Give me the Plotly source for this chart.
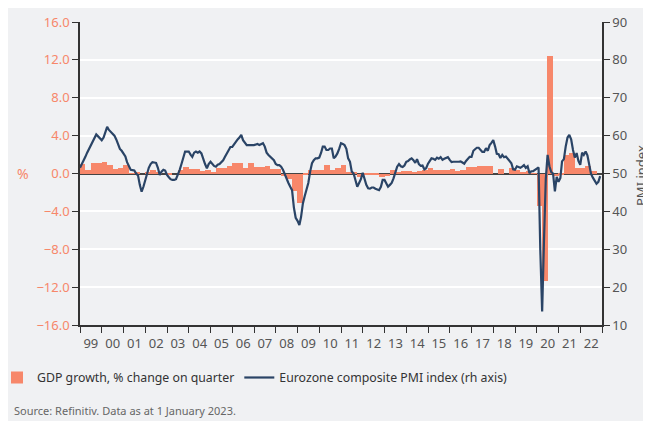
import pandas as pd
import plotly.graph_objects as go

# Quarterly GDP growth, % change on quarter (1999Q1 .. 2022Q4)
gdp_q = [
    1.0, 0.35, 1.1, 1.1,      # 1999
    1.2, 0.9, 0.45, 0.6,      # 2000
    0.95, 0.05, 0.1, 0.0,     # 2001
    0.1, 0.4, 0.2, 0.0,       # 2002
    -0.15, 0.0, 0.42, 0.7,    # 2003
    0.5, 0.5, 0.25, 0.4,      # 2004
    0.15, 0.6, 0.6, 0.8,      # 2005
    1.1, 1.1, 0.6, 1.15,      # 2006
    0.65, 0.65, 0.75, 0.5,    # 2007
    0.5, -0.3, -0.55, -1.8,   # 2008
    -3.1, -0.2, 0.4, 0.4,     # 2009
    0.4, 0.95, 0.4, 0.6,      # 2010
    0.95, 0.15, 0.1, -0.35,   # 2011
    -0.1, -0.2, -0.2, -0.4,   # 2012
    -0.3, 0.35, 0.2, 0.3,     # 2013
    0.25, 0.15, 0.3, 0.4,     # 2014
    0.6, 0.4, 0.4, 0.4,       # 2015
    0.5, 0.25, 0.4, 0.7,      # 2016
    0.7, 0.78, 0.78, 0.78,    # 2017
    0.0, 0.5, 0.0, 0.6,       # 2018
    0.35, 0.2, 0.3, 0.05,     # 2019
    -3.4, -11.4, 12.4, -0.3,  # 2020
    -0.1, 2.0, 2.2, 0.55,     # 2021
    0.6, 0.8, 0.3, None,      # 2022
]

# Monthly Eurozone composite PMI (Jan 1999 .. Dec 2022)
pmi = [
    51.5, 52.5, 53.0, 54.4, 55.5, 56.5, 57.5, 58.5, 59.5, 60.3, 59.8, 59.2,   # 1999
    58.8, 59.5, 61.0, 62.3, 61.5, 61.0, 60.5, 60.0, 59.0, 57.5, 56.5, 56.0,   # 2000
    55.3, 54.5, 53.0, 51.8, 51.0, 50.9, 50.8, 50.0, 49.5, 47.0, 45.2, 46.5,   # 2001
    48.5, 50.0, 51.5, 52.5, 53.0, 52.9, 52.8, 51.5, 49.6, 50.5, 51.0, 50.8,   # 2002
    49.6, 49.0, 48.5, 48.3, 48.3, 48.5, 49.5, 50.9, 52.5, 54.0, 55.8, 55.8,   # 2003
    55.8, 55.0, 54.4, 55.5, 55.8, 55.5, 55.8, 55.3, 53.6, 52.5, 51.4, 52.5,   # 2004
    53.1, 52.5, 52.0, 51.8, 52.3, 52.5, 53.0, 53.5, 54.4, 55.3, 56.2, 57.0,   # 2005
    57.0, 57.8, 58.4, 59.0, 59.5, 60.2, 58.8, 58.0, 57.5, 57.5, 57.6, 57.5,   # 2006
    57.5, 57.6, 57.8, 57.5, 57.8, 58.0, 57.1, 55.5, 54.9, 54.5, 54.0, 53.5,   # 2007
    52.5, 52.2, 52.2, 51.8, 51.0, 49.8, 48.3, 47.5, 46.5, 45.6, 41.0, 38.3,   # 2008
    37.5, 36.4, 38.5, 42.1, 44.0, 45.6, 47.5, 50.5, 52.7, 53.5, 54.0, 54.0,   # 2009
    54.2, 55.5, 57.1, 57.1, 56.2, 56.2, 56.6, 56.6, 54.0, 54.5, 55.3, 56.5,   # 2010
    58.0, 57.8, 57.5, 56.5, 54.0, 53.1, 50.5, 50.0, 48.5, 46.5, 47.5, 48.5,   # 2011
    50.2, 48.5, 47.0, 46.1, 46.0, 46.3, 46.3, 46.0, 45.8, 45.6, 46.5, 48.3,   # 2012
    48.3, 47.5, 46.5, 47.0, 47.5, 48.7, 50.0, 51.8, 52.5, 51.9, 51.7, 52.1,   # 2013
    53.1, 53.3, 53.7, 54.0, 53.5, 52.8, 53.8, 52.5, 52.0, 52.1, 51.1, 51.4,   # 2014
    52.6, 53.3, 54.0, 53.9, 53.6, 54.2, 53.9, 54.3, 53.6, 53.9, 54.2, 54.3,   # 2015
    53.6, 53.0, 53.1, 53.0, 53.1, 53.1, 53.2, 52.9, 52.6, 53.3, 53.9, 54.4,   # 2016
    54.4, 56.0, 56.4, 56.8, 56.8, 56.3, 55.7, 55.7, 56.7, 56.0, 57.5, 58.1,   # 2017
    58.8, 57.1, 55.2, 55.1, 54.1, 54.9, 54.3, 54.5, 53.9, 53.1, 52.7, 51.1,   # 2018
    51.0, 51.9, 51.6, 51.5, 51.8, 52.2, 51.5, 51.9, 50.1, 50.6, 50.6, 50.9,   # 2019
    51.3, 51.6, 29.7, 13.6, 31.9, 48.5, 54.9, 51.9, 50.4, 50.0, 45.3, 49.1,   # 2020
    47.8, 48.8, 53.2, 53.8, 57.1, 59.5, 60.2, 59.0, 56.2, 54.2, 55.4, 53.3,   # 2021
    52.3, 55.5, 54.9, 55.8, 54.8, 52.0, 49.9, 48.9, 48.1, 47.3, 47.8, 49.3,   # 2022
]

months = pd.date_range("1999-01-01", periods=len(pmi), freq="MS")
gdp_monthly = [v for v in gdp_q for _ in range(3)]
bar_x = months + pd.Timedelta(days=15)

SALMON = "#f7876a"
NAVY = "#2a4466"
BG = "#f0f1f3"
AX = "#555555"
FONT = "Noto Sans"

fig = go.Figure()
fig.add_trace(go.Bar(
    x=bar_x, y=gdp_monthly, name="GDP growth, % change on quarter",
    marker=dict(color=SALMON, line=dict(width=0)),
    width=19 * 24 * 3600 * 1000, yaxis="y",
))
fig.add_trace(go.Scatter(
    x=months, y=pmi, name="Eurozone composite PMI index (rh axis)",
    mode="lines", line=dict(color=NAVY, width=2.2), yaxis="y2",
))

fig.update_layout(
    width=651, height=421,
    margin=dict(l=72, r=57, t=14, b=104, autoexpand=False),
    paper_bgcolor=BG, plot_bgcolor=BG,
    font=dict(family=FONT, size=13, color=AX),
    showlegend=True,
    legend=dict(orientation="h", x=-0.159, xanchor="left", y=-0.1254, yanchor="top",
                font=dict(size=12.3, color="#333"), bgcolor="rgba(0,0,0,0)",
                itemwidth=30, traceorder="normal"),
    xaxis=dict(
        type="date", range=["1999-01-01", "2023-01-01"],
        tick0="1999-01-01", dtick="M12", tickformat="%y", ticklabelmode="period",
        ticks="outside", ticklen=6, tickcolor="#333", tickwidth=1.2,
        showline=True, linecolor="#333", linewidth=1.5,
        showgrid=False, tickfont=dict(size=13, color=AX), automargin=False,
    ),
    yaxis=dict(
        range=[-16, 16], dtick=4, tickformat=".1f",
        ticks="outside", ticklen=6, tickcolor="#333",
        showline=True, linecolor="#333", linewidth=1.5,
        showgrid=True, gridcolor="white", gridwidth=1.5,
        zeroline=True, zerolinecolor="#444", zerolinewidth=1.5,
        tickfont=dict(size=13, color=SALMON), automargin=False,
    ),
    yaxis2=dict(
        overlaying="y", side="right", range=[10, 90], dtick=10,
        ticks="outside", ticklen=6, tickcolor="#333",
        showline=True, linecolor="#333", linewidth=1.5,
        showgrid=False, zeroline=False,
        tickfont=dict(size=13, color=AX), automargin=False,
    ),
    bargap=0,
)

fig.add_annotation(text="%", xref="paper", yref="y", x=-0.109, y=0,
                   xanchor="center", yanchor="middle", showarrow=False,
                   font=dict(size=14, color=SALMON))
fig.add_annotation(text="PMI index", xref="paper", yref="paper", x=1.0747, y=0.495,
                   xanchor="center", yanchor="middle", showarrow=False, textangle=-90,
                   font=dict(size=13, color=AX))
fig.add_annotation(text="Source: Refinitiv. Data as at 1 January 2023.",
                   xref="paper", yref="paper", x=-0.130, y=-0.2838,
                   xanchor="left", yanchor="middle", showarrow=False,
                   font=dict(size=11, color="#666"))

fig.write_html("out.html")
